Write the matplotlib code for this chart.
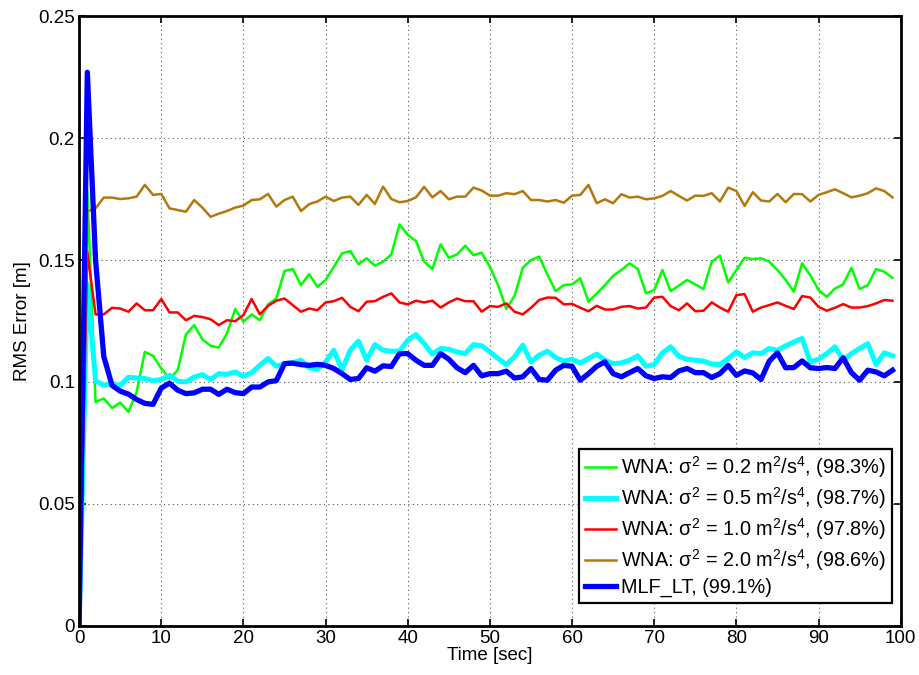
import numpy as np
import matplotlib
matplotlib.use("Agg")
import matplotlib.pyplot as plt

plt.rcParams["font.family"] = ["Liberation Sans", "DejaVu Sans"]
plt.rcParams["mathtext.fontset"] = "custom"
plt.rcParams["mathtext.rm"] = "Liberation Sans"
plt.rcParams["mathtext.it"] = "Liberation Sans"
plt.rcParams["mathtext.bf"] = "Liberation Sans:bold"

# time axis (one sample per second)
t = np.arange(100)

wna_02 = [0, 0.178, 0.0918, 0.0932, 0.0893, 0.0915, 0.0877, 0.0959, 0.1123, 0.1107,
          0.1055, 0.1014, 0.1048, 0.1194, 0.1233, 0.1175, 0.1148, 0.1141, 0.1199, 0.1299,
          0.1247, 0.1277, 0.1253, 0.1318, 0.1342, 0.1455, 0.1463, 0.1397, 0.1442, 0.139,
          0.1418, 0.1472, 0.1527, 0.1537, 0.1483, 0.1507, 0.1477, 0.1493, 0.1523, 0.1646,
          0.1603, 0.1578, 0.1493, 0.1463, 0.1564, 0.1509, 0.1523, 0.1559, 0.152, 0.153,
          0.1472, 0.1397, 0.1299, 0.1353, 0.1468, 0.15, 0.1514, 0.1441, 0.1372, 0.1397,
          0.14, 0.1425, 0.1329, 0.1363, 0.1397, 0.1435, 0.1459, 0.1486, 0.1463, 0.1363,
          0.1377, 0.1459, 0.1372, 0.1395, 0.1418, 0.14, 0.1381, 0.1493, 0.1518, 0.1408,
          0.1459, 0.1509, 0.1504, 0.1507, 0.1493, 0.1459, 0.1418, 0.137, 0.1486, 0.1438,
          0.1377, 0.1349, 0.1383, 0.14, 0.1468, 0.1381, 0.1397, 0.1463, 0.1452, 0.1427]

wna_05 = [0, 0.140, 0.1005, 0.0986, 0.0993, 0.0985, 0.1019, 0.1016, 0.1014, 0.1005,
          0.101, 0.1027, 0.1003, 0.1, 0.102, 0.103, 0.101, 0.1034, 0.1031, 0.1041,
          0.1023, 0.1038, 0.1068, 0.1096, 0.1064, 0.1075, 0.1079, 0.1089, 0.1058, 0.1052,
          0.1082, 0.113, 0.1048, 0.113, 0.1167, 0.1089, 0.1153, 0.113, 0.1126, 0.1126,
          0.1171, 0.1194, 0.1157, 0.1114, 0.1137, 0.1134, 0.1123, 0.1116, 0.1153, 0.1148,
          0.1123, 0.1096, 0.1071, 0.1103, 0.1151, 0.1082, 0.111, 0.1126, 0.11, 0.1086,
          0.1093, 0.1078, 0.1096, 0.1114, 0.1089, 0.1075, 0.1078, 0.1089, 0.1107, 0.1064,
          0.1071, 0.1119, 0.1144, 0.1105, 0.1093, 0.1089, 0.1085, 0.1073, 0.1071, 0.1096,
          0.1123, 0.11, 0.1119, 0.1116, 0.1137, 0.113, 0.1148, 0.1164, 0.1178, 0.1082,
          0.1093, 0.1116, 0.1144, 0.1089, 0.1116, 0.1137, 0.1157, 0.1071, 0.1119, 0.1107]

wna_10 = [0, 0.1533, 0.1277, 0.1277, 0.1304, 0.1301, 0.1288, 0.1322, 0.1294, 0.1294,
          0.134, 0.1285, 0.1285, 0.1253, 0.1271, 0.1266, 0.1257, 0.1233, 0.1253, 0.1249,
          0.1274, 0.134, 0.1277, 0.1312, 0.1333, 0.1342, 0.1315, 0.1288, 0.1301, 0.1294,
          0.1326, 0.1331, 0.1345, 0.1308, 0.129, 0.1329, 0.1331, 0.1349, 0.1363, 0.1326,
          0.1318, 0.1333, 0.1326, 0.1333, 0.1305, 0.1326, 0.1342, 0.1331, 0.1331, 0.1288,
          0.1311, 0.1308, 0.1322, 0.1288, 0.1277, 0.1304, 0.1336, 0.1346, 0.1345, 0.1318,
          0.132, 0.1304, 0.129, 0.1312, 0.1297, 0.1297, 0.1308, 0.1311, 0.1301, 0.1305,
          0.1346, 0.1349, 0.1311, 0.1294, 0.1322, 0.129, 0.1292, 0.1326, 0.1305, 0.1288,
          0.1356, 0.136, 0.1288, 0.1305, 0.1315, 0.1326, 0.1312, 0.1299, 0.1352, 0.1346,
          0.1308, 0.1292, 0.1304, 0.1319, 0.1305, 0.1305, 0.1311, 0.1322, 0.1336, 0.1333]

wna_20 = [0, 0.170, 0.1712, 0.1756, 0.1756, 0.175, 0.1753, 0.176, 0.1808, 0.1767,
          0.1771, 0.1712, 0.1705, 0.1698, 0.1746, 0.1715, 0.1677, 0.169, 0.1701, 0.1715,
          0.1723, 0.1746, 0.1749, 0.1771, 0.1719, 0.1746, 0.176, 0.1701, 0.1729, 0.174,
          0.176, 0.1742, 0.1756, 0.176, 0.1726, 0.1767, 0.173, 0.1801, 0.175, 0.1737,
          0.1742, 0.1757, 0.18, 0.1757, 0.1783, 0.1749, 0.176, 0.176, 0.1797, 0.1785,
          0.1764, 0.1764, 0.1774, 0.177, 0.1783, 0.1746, 0.1746, 0.174, 0.1746, 0.1735,
          0.1764, 0.1767, 0.1808, 0.1733, 0.1749, 0.1733, 0.177, 0.1756, 0.176, 0.1749,
          0.1753, 0.1763, 0.1783, 0.1763, 0.1744, 0.1764, 0.1763, 0.1774, 0.174, 0.1797,
          0.1783, 0.1722, 0.1778, 0.1744, 0.174, 0.1771, 0.1737, 0.1771, 0.177, 0.174,
          0.1767, 0.1778, 0.179, 0.1774, 0.1757, 0.1764, 0.1774, 0.1794, 0.1783, 0.1757]

mlf_lt = [0, 0.227, 0.150, 0.1105, 0.0986, 0.0962, 0.095, 0.0928, 0.0912, 0.0908,
          0.0975, 0.0995, 0.0966, 0.0952, 0.0955, 0.097, 0.097, 0.0949, 0.097, 0.0956,
          0.0952, 0.0979, 0.0979, 0.1, 0.1005, 0.1075, 0.1077, 0.1071, 0.1068, 0.1072,
          0.1068, 0.1055, 0.1034, 0.101, 0.1014, 0.1058, 0.1044, 0.1066, 0.1063, 0.1116,
          0.1116, 0.1089, 0.1068, 0.1068, 0.1116, 0.1093, 0.1058, 0.1038, 0.1068, 0.1025,
          0.1034, 0.1034, 0.1044, 0.1016, 0.1021, 0.1055, 0.101, 0.1007, 0.1048, 0.1068,
          0.1064, 0.1007, 0.1034, 0.1064, 0.1082, 0.1034, 0.1021, 0.1038, 0.1055, 0.1025,
          0.1014, 0.1021, 0.1018, 0.1045, 0.1055, 0.1038, 0.1038, 0.1018, 0.1034, 0.1068,
          0.1027, 0.1045, 0.1037, 0.101, 0.1085, 0.1119, 0.1058, 0.1059, 0.1086, 0.1058,
          0.1055, 0.1059, 0.1055, 0.1099, 0.1038, 0.1007, 0.1048, 0.1041, 0.1025, 0.1048]

labels = [
    r"WNA: $\sigma^2$ = 0.2 m$^2$/s$^4$, (98.3%)",
    r"WNA: $\sigma^2$ = 0.5 m$^2$/s$^4$, (98.7%)",
    r"WNA: $\sigma^2$ = 1.0 m$^2$/s$^4$, (97.8%)",
    r"WNA: $\sigma^2$ = 2.0 m$^2$/s$^4$, (98.6%)",
    "MLF_LT, (99.1%)",
]

fig = plt.figure(figsize=(9.2, 6.75), dpi=100)
ax = fig.add_axes([0.086, 0.073, 0.893, 0.903])

ax.plot(t, wna_02, color="#00FF00", linewidth=1.8, label=labels[0])
ax.plot(t, wna_05, color="#00FFFF", linewidth=3.6, label=labels[1])
ax.plot(t, wna_10, color="#FF0000", linewidth=1.8, label=labels[2])
ax.plot(t, wna_20, color="#B5780C", linewidth=1.8, label=labels[3])
ax.plot(t, mlf_lt, color="#0000FF", linewidth=3.8, label=labels[4])

ax.set_xlim(0, 100)
ax.set_ylim(0, 0.25)
ax.set_xticks(np.arange(0, 101, 10))
ax.set_yticks([0, 0.05, 0.1, 0.15, 0.2, 0.25])
ax.set_yticklabels(["0", "0.05", "0.1", "0.15", "0.2", "0.25"])
ax.tick_params(direction="in", length=5, width=1.2, labelsize=13.5,
               top=True, right=True, pad=3)
ax.grid(True, linestyle=(0, (1, 3)), color="#555555", linewidth=0.8)
for sp in ax.spines.values():
    sp.set_linewidth(2.0)

ax.set_xlabel("Time [sec]", fontsize=13.5, labelpad=0)
ax.set_ylabel("RMS Error [m]", fontsize=13.5, labelpad=5)

leg = ax.legend(loc="lower right", bbox_to_anchor=(0.99, 0.037), fontsize=14.3,
                fancybox=False, framealpha=1, edgecolor="black",
                handlelength=1.6, handletextpad=0.25, labelspacing=0.25,
                borderpad=0.3, borderaxespad=0)
leg.get_frame().set_linewidth(1.6)

fig.savefig("out.png", dpi=100)
